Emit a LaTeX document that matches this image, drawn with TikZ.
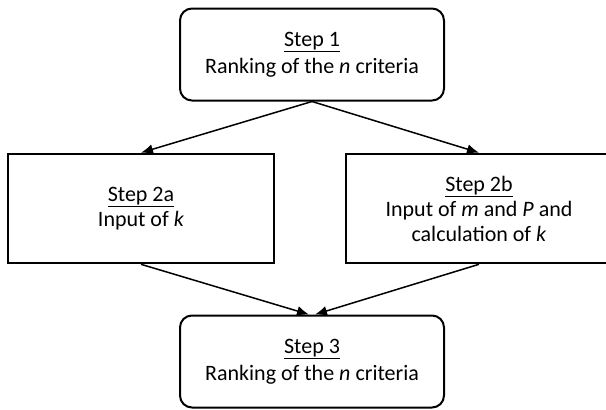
\documentclass[tikz,border=0pt]{standalone}
\usepackage{fontspec}
\setmainfont{Carlito}
\usetikzlibrary{arrows.meta}

\begin{document}
\begin{tikzpicture}[x=1pt,y=-1pt,
    roundbox/.style={draw,line width=2pt,rounded corners=12pt,
        minimum width=264pt,minimum height=92pt,align=center,
        font=\fontsize{22}{26.5}\selectfont},
    squarebox/.style={draw,line width=2.6pt,
        minimum width=266pt,minimum height=109pt,align=center,
        font=\fontsize{22}{25}\selectfont},
    link/.style={line width=1.5pt,-{Latex[length=12pt,width=10pt]}}]

\useasboundingbox (0,0) rectangle (606,410);

% boxes
\node[roundbox] (stepone) at (312,54.5) {\underline{Step 1}\\Ranking of the \textit{n} criteria};
\node[squarebox] (steptwoa) at (141,208.5) {\underline{Step 2a}\\Input of \textit{k}};
\node[squarebox] (steptwob) at (479,208.5) {\underline{Step 2b}\\Input of \textit{m} and \textit{P} and\\calculation of \textit{k}};
\node[roundbox] (stepthree) at (312,361.5) {\underline{Step 3}\\Ranking of the \textit{n} criteria};

% arrows
\draw[link] (stepone.south) -- (steptwoa.north);
\draw[link] (stepone.south) -- (steptwob.north);
\draw[link] (steptwoa.south) -- ([xshift=-3pt]stepthree.north);
\draw[link] (steptwob.south) -- ([xshift=3pt]stepthree.north);

\end{tikzpicture}
\end{document}
